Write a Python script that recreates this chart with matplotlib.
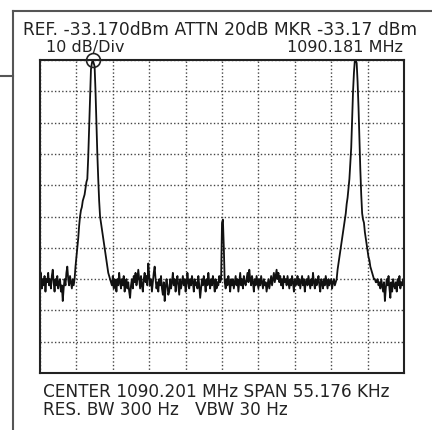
import numpy as np
import matplotlib
matplotlib.use("Agg")
import matplotlib.pyplot as plt

# analyzer settings (as shown on screen)
center_mhz = 1090.201
span_khz = 55.176
ref_dbm = -33.170
db_per_div = 10

# trace levels in dB relative to REF, 401 sweep points across the span
left_floor = [
    -71, -68, -73, -70, -72, -69, -74, -70, -71, -68,
    -72, -70, -73, -69, -67, -71, -74, -70, -72, -69,
    -73, -71, -70, -74, -72, -77, -73, -70, -72, -68,
    -66, -70, -72, -69, -71, -73, -70, -72,
]
left_peak = [
    -70, -66, -63, -60, -57, -53, -50, -48, -47, -45,
    -44, -43, -41, -39, -38, -31, -22, -12, -3, -1,
    0, -1, -2, -10, -20, -30, -38, -45, -50, -52,
    -54, -56, -58, -60, -62, -64, -66, -68, -69, -70,
    -71,
]
mid_floor_1 = [
    -72, -69, -73, -70, -71, -74, -70, -72, -68, -71,
    -73, -70, -72, -69, -74, -71, -70, -73, -71, -74,
    -76, -72, -70, -73, -69, -71, -68, -72, -70, -67,
    -70, -73, -69, -72, -74, -70, -68, -71, -69, -72,
    -65, -69, -72, -70, -74, -71, -68, -66, -70, -73,
    -71, -74, -70, -72, -69, -73, -75, -71, -77, -73,
    -70, -72, -75, -74, -70, -73, -71, -68, -72, -70,
    -74, -71, -69, -72, -75, -70, -73, -71, -69, -72,
    -70, -74, -72, -68, -71, -73, -70, -72, -69, -71,
    -74, -70, -72, -71, -73, -69, -72, -76, -73, -70,
    -72, -69, -71, -74, -70, -72, -68, -71, -73, -70,
    -72, -69, -71, -74, -70, -73, -71, -72, -69, -71,
    -70,
]
centre_spur = [-52, -51, -60]
mid_floor_2 = [
    -71, -73, -70, -72, -69, -71, -74, -70, -72, -70,
    -73, -71, -69, -72, -70, -74, -71, -68, -72, -70,
    -73, -69, -71, -72, -70, -68, -71, -67, -70, -72,
    -69, -71, -74, -70, -72, -69, -71, -73, -70, -72,
    -69, -71, -73, -70, -72, -71, -74, -72, -70, -73,
    -71, -69, -72, -70, -68, -71, -69, -67, -70, -68,
    -71, -69, -72, -70, -73, -69, -71, -70, -72, -69,
    -71, -73, -70, -72, -69, -71, -74, -70, -72, -71,
    -69, -72, -70, -73, -71, -69, -72, -70, -74, -71,
    -70, -72, -69, -71, -73, -70, -72, -68, -71, -73,
    -70, -72, -71, -69, -72, -74, -70, -71, -73, -70,
    -72, -69, -71, -73, -70, -72, -71, -70, -73, -71,
    -70, -72, -71,
]
right_peak = [
    -70, -67, -65, -63, -61, -59, -57, -55, -53, -51,
    -49, -46, -44, -41, -38, -33, -28, -19, -10, -4,
    0, 0, -1, -7, -15, -25, -35, -43, -49, -51,
    -52, -55, -57, -59, -61, -63, -64, -66, -67, -68,
    -69, -70, -70, -71, -71,
]
right_floor = [
    -70, -72, -71, -73, -70, -72, -74, -71, -77, -73,
    -70, -72, -69, -73, -76, -71, -74, -70, -72, -73,
    -71, -74, -70, -72, -69, -73, -71, -72, -70, -72,
]
trace_db = left_floor + left_peak + mid_floor_1 + centre_spur + mid_floor_2 + right_peak + right_floor
marker_idx = len(left_floor) + left_peak.index(0)

header_1 = "REF. -33.170dBm ATTN 20dB MKR -33.17 dBm"
header_2 = "10 dB/Div"
marker_txt = "1090.181 MHz"
footer_1 = "CENTER 1090.201 MHz SPAN 55.176 KHz"
footer_2 = "RES. BW 300 Hz   VBW 30 Hz"

freq_khz = np.linspace(-span_khz / 2, span_khz / 2, len(trace_db))

W, H = 432, 430
fig = plt.figure(figsize=(W / 100, H / 100), dpi=100)
fig.patch.set_facecolor("white")

ax = fig.add_axes([40 / W, 1 - 373 / H, 364 / W, 313 / H])
ax.plot(freq_khz, trace_db, color="#111111", lw=1.3)
ax.plot(freq_khz[marker_idx], trace_db[marker_idx], "o", ms=10, mfc="none",
        mec="#222222", mew=1.2, clip_on=False)

ax.set_xlim(-span_khz / 2, span_khz / 2)
ax.set_ylim(-10 * db_per_div, 0)
ax.set_xticks(np.linspace(-span_khz / 2, span_khz / 2, 11))
ax.set_yticks(np.linspace(-100, 0, 11))
ax.tick_params(length=0, labelbottom=False, labelleft=False)
ax.grid(True, color="#444444", lw=1.0, ls=(0, (1, 1.6)))
for s in ax.spines.values():
    s.set_color("#222222")
    s.set_linewidth(1.5)

# outer frame of the screen shot
def px_line(x0, y0, x1, y1):
    fig.add_artist(plt.Line2D([x0 / W, x1 / W], [1 - y0 / H, 1 - y1 / H],
                              color="#555555", lw=1.5, transform=fig.transFigure))

px_line(13, 11, W, 11)
px_line(13, 11, 13, H)
px_line(0, 76, 13, 76)

font = dict(family="DejaVu Sans", color="#222222", fontsize=11.5)
fig.text(23 / W, 1 - 35 / H, header_1, va="baseline", ha="left",
         **{**font, "fontsize": 12.3})
fig.text(46 / W, 1 - 52 / H, header_2, va="baseline", ha="left", **font)
fig.text(403 / W, 1 - 52 / H, marker_txt, va="baseline", ha="right", **font)
fig.text(43 / W, 1 - 397 / H, footer_1, va="baseline", ha="left",
         **{**font, "fontsize": 12.2})
fig.text(43 / W, 1 - 415 / H, footer_2, va="baseline", ha="left",
         **{**font, "fontsize": 12.2})

fig.savefig("out.png", dpi=100)
